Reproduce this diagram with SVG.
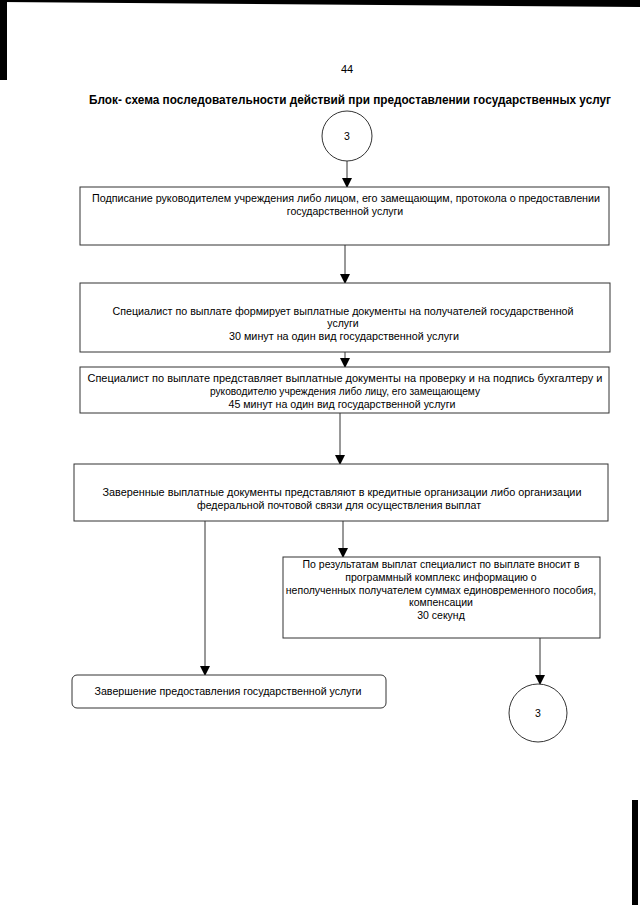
<svg xmlns="http://www.w3.org/2000/svg" width="640" height="905" viewBox="0 0 640 905">
<defs>
<marker id="ah" markerWidth="10" markerHeight="10" refX="9" refY="5" orient="auto" markerUnits="userSpaceOnUse">
<path d="M0,0 L10,5 L0,10 Z" fill="#000"/>
</marker>
<style>
.t{font-family:"Liberation Sans",Arial,sans-serif;font-size:10.5px;fill:#000;text-anchor:middle}
.b{fill:#fff;stroke:#333;stroke-width:1}
.c{stroke:#333;stroke-width:1;fill:none;marker-end:url(#ah)}
</style>
</defs>
<rect width="640" height="905" fill="#fff"/>
<g id="scan">
<polygon points="0,0 640,0 640,7 0,2" fill="#000"/>
<rect x="0" y="0" width="7" height="80" fill="#000"/>
<rect x="632" y="800" width="6" height="105" fill="#000"/>
</g>
<text x="347" y="73" class="t" style="font-size:11px">44</text>
<text x="350" y="104" class="t" style="font-weight:bold;font-size:12px" textLength="522" lengthAdjust="spacingAndGlyphs">Блок- схема последовательности действий при предоставлении государственных услуг</text>
<g id="connectors">
<line x1="347" y1="161" x2="347" y2="187" class="c"/>
<line x1="345" y1="245" x2="345" y2="283" class="c"/>
<line x1="345" y1="352" x2="345" y2="367" class="c"/>
<line x1="340" y1="413" x2="340" y2="464" class="c"/>
<line x1="205" y1="521" x2="205" y2="675" class="c"/>
<line x1="343" y1="521" x2="343" y2="557" class="c"/>
<line x1="540" y1="638" x2="540" y2="684" class="c"/>
</g>
<g id="start">
<circle cx="347" cy="136" r="25" class="b"/>
<text x="347" y="140" class="t">3</text>
</g>
<g id="box1">
<rect x="80" y="187" width="529" height="58" class="b"/>
<text x="346" y="202" class="t" textLength="508" lengthAdjust="spacingAndGlyphs">Подписание руководителем учреждения либо лицом, его замещающим, протокола о предоставлении</text>
<text x="345" y="215" class="t">государственной услуги</text>
</g>
<g id="box2">
<rect x="80" y="283" width="530" height="69" class="b"/>
<text x="343" y="315" class="t" textLength="461" lengthAdjust="spacingAndGlyphs">Специалист по выплате формирует выплатные документы на получателей государственной</text>
<text x="343" y="327" class="t">услуги</text>
<text x="344" y="340" class="t" textLength="230" lengthAdjust="spacingAndGlyphs">30 минут на один вид государственной услуги</text>
</g>
<g id="box3">
<rect x="80" y="367" width="529" height="46" class="b"/>
<text x="345" y="382" class="t" textLength="515" lengthAdjust="spacingAndGlyphs">Специалист по выплате представляет выплатные документы на проверку и на подпись бухгалтеру  и</text>
<text x="345" y="395" class="t" textLength="270" lengthAdjust="spacingAndGlyphs">руководителю учреждения либо лицу, его замещающему</text>
<text x="342" y="408" class="t" textLength="227" lengthAdjust="spacingAndGlyphs">45 минут на один вид государственной услуги</text>
</g>
<g id="box4">
<rect x="74" y="464" width="534" height="57" class="b"/>
<text x="342" y="496" class="t" textLength="479" lengthAdjust="spacingAndGlyphs">Заверенные выплатные документы представляют в кредитные организации либо организации</text>
<text x="339" y="509" class="t" textLength="284" lengthAdjust="spacingAndGlyphs">федеральной почтовой связи для осуществления выплат</text>
</g>
<g id="box6">
<rect x="283" y="557" width="317" height="81" class="b"/>
<text x="441" y="568" class="t">По результатам выплат специалист по выплате вносит в</text>
<text x="441" y="581" class="t">программный комплекс информацию о</text>
<text x="441" y="594" class="t">неполученных получателем суммах единовременного пособия,</text>
<text x="441" y="606" class="t">компенсации</text>
<text x="441" y="619" class="t">30 секунд</text>
</g>
<g id="box5">
<rect x="72" y="675" width="314" height="33" rx="5" class="b"/>
<text x="228" y="695" class="t" textLength="267" lengthAdjust="spacingAndGlyphs">Завершение предоставления государственной услуги</text>
</g>
<g id="end">
<circle cx="538" cy="713" r="29" class="b"/>
<text x="538" y="717" class="t">3</text>
</g>
</svg>
